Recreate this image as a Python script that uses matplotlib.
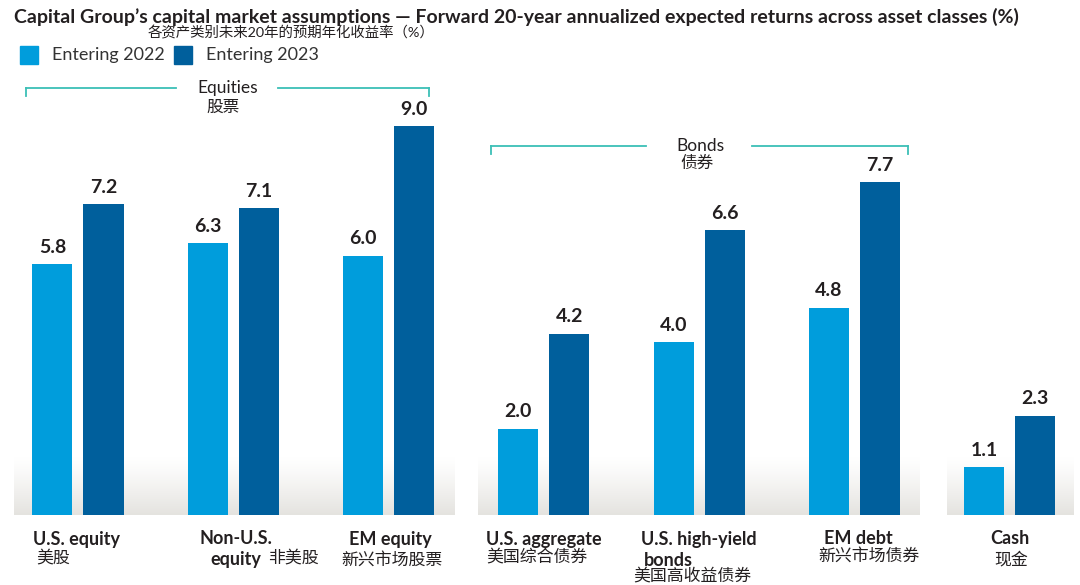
import numpy as np
import matplotlib
matplotlib.use('Agg')
import matplotlib.pyplot as plt
import matplotlib.transforms as mtransforms
from matplotlib.patches import Rectangle

plt.rcParams['font.family'] = ['Lato', 'Noto Sans CJK SC', 'DejaVu Sans']

# data
categories = ['U.S. equity', 'Non-U.S. equity', 'EM equity', 'U.S. aggregate',
              'U.S. high-yield bonds', 'EM debt', 'Cash']
entering_2022 = [5.8, 6.3, 6.0, 2.0, 4.0, 4.8, 1.1]
entering_2023 = [7.2, 7.1, 9.0, 4.2, 6.6, 7.7, 2.3]
series_names = ['Entering 2022', 'Entering 2023']

c_light = '#009ddc'
c_dark = '#005f9c'
teal = '#3cbfb6'
txt = '#231f20'

W, H = 1080, 585
fig = plt.figure(figsize=(W / 100, H / 100), dpi=100)
# pixel transform, origin top-left
T = mtransforms.Affine2D().scale(1, -1).translate(0, H)

step = 155.3   # px between groups
x0px = 78      # px centre of first group
base_px = 515
unit_px = 43.2
ax = fig.add_axes([0, (H - base_px) / H, 1, base_px / H])

def px2x(p):
    return (p - x0px) / step

x = np.arange(len(categories))
bw = 40 / step
off = 25.5 / step

# panel backgrounds with gradient
grad = np.linspace(0, 1, 100).reshape(-1, 1) ** 1.2
top = np.array([1.0, 1.0, 1.0])
bot = np.array([0.895, 0.89, 0.875])
img = (top + (bot - top) * grad[..., None]).reshape(100, 1, 3)
for a, b in [(14.5, 455), (478, 920), (947, 1073)]:
    ax.imshow(img, extent=[px2x(a), px2x(b), 0, 58 / unit_px],
              aspect='auto', origin='upper', zorder=0, interpolation='bilinear')
ax.set_xlim(px2x(0), px2x(W))
ax.set_ylim(0, base_px / unit_px)
ax.axis('off')

b1 = ax.bar(x - off, entering_2022, bw, color=c_light, zorder=2)
b2 = ax.bar(x + off, entering_2023, bw, color=c_dark, zorder=2)
for bars, vals in [(b1, entering_2022), (b2, entering_2023)]:
    for r, v in zip(bars, vals):
        ax.annotate(f'{v:.1f}', (r.get_x() + r.get_width() / 2, v),
                    xytext=(0, 6), textcoords='offset points', ha='center',
                    va='bottom', fontsize=14, fontweight='bold', color=txt)

# brackets
def bracket(x0, x1, xa, xb, y, ytick):
    for a, b in [(x0, xa), (xb, x1)]:
        fig.add_artist(plt.Line2D([a, b], [y, y], color=teal, lw=1.3, transform=T))
    for a in (x0, x1):
        fig.add_artist(plt.Line2D([a, a], [y, ytick], color=teal, lw=1.3, transform=T))

bracket(26, 429, 176, 278, 88, 96)
bracket(491, 908, 646, 752, 146, 154)
fig.text(228, 88, 'Equities', transform=T, ha='center', va='center', fontsize=12.5, color=txt)
fig.text(223, 107, '股票', transform=T, ha='center', va='center', fontsize=12, color=txt)
fig.text(700, 146, 'Bonds', transform=T, ha='center', va='center', fontsize=12.5, color=txt)
fig.text(697, 163, '债券', transform=T, ha='center', va='center', fontsize=12, color=txt)

# title and legend
fig.text(14, 17, 'Capital Group\u2019s capital market assumptions \u2014 Forward 20-year annualized expected returns across asset classes (%)',
         transform=T, ha='left', va='center', fontsize=14, fontweight='bold', color=txt)
fig.text(148, 32, '各资产类别未来20年的预期年化收益率（%）', transform=T, ha='left',
         va='center', fontsize=10.4, color=txt)
for sx, tx, col, name in [(20, 52, c_light, series_names[0]), (174, 206, c_dark, series_names[1])]:
    fig.add_artist(Rectangle((sx, 64), 18, -18, color=col, transform=T))
    fig.text(tx, 55, name, transform=T, ha='left', va='center', fontsize=13, color='#333333')

# category labels
en_kw = dict(transform=T, va='center', fontsize=13, fontweight='bold', color=txt)
cn_kw = dict(transform=T, va='center', fontsize=12.2, color=txt)
fig.text(33, 539, 'U.S. equity', ha='left', **en_kw)
fig.text(36, 557, '美股', ha='left', **cn_kw)
fig.text(236, 539, 'Non-U.S.', ha='center', **en_kw)
fig.text(236, 560, 'equity', ha='center', **en_kw)
fig.text(268, 557, '非美股', ha='left', **cn_kw)
fig.text(390, 539, 'EM equity', ha='center', **en_kw)
fig.text(392, 560, '新兴市场股票', ha='center', **cn_kw)
fig.text(544, 539, 'U.S. aggregate', ha='center', **en_kw)
fig.text(537, 557, '美国综合债券', ha='center', **cn_kw)
fig.text(699, 539, 'U.S. high-yield', ha='center', **en_kw)
fig.text(668, 560, 'bonds', ha='center', **en_kw)
fig.text(692, 576, '美国高收益债券', ha='center', **cn_kw)
fig.text(858, 539, 'EM debt', ha='center', **en_kw)
fig.text(869, 556, '新兴市场债券', ha='center', **cn_kw)
fig.text(1010, 539, 'Cash', ha='center', **en_kw)
fig.text(1011, 559, '现金', ha='center', **cn_kw)

fig.savefig('out.png', dpi=100)
